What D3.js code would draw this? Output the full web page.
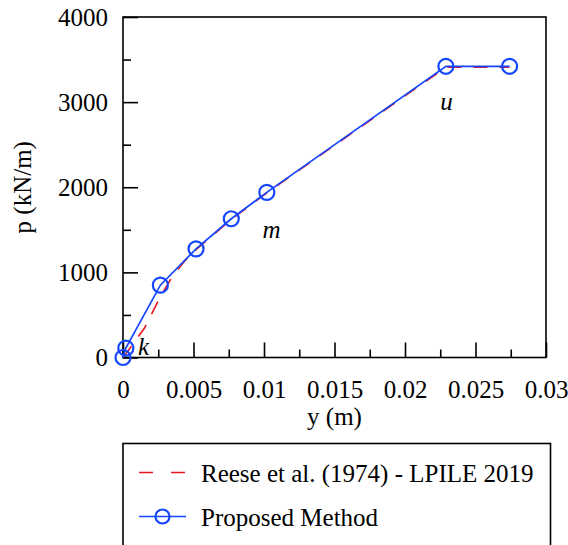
<!DOCTYPE html>
<html>
<head>
<meta charset="utf-8">
<script src="https://cdn.jsdelivr.net/npm/d3@7"></script>
<style>
  html, body { margin: 0; padding: 0; background: #fff; }
  svg { display: block; }
  text { font-family: "Liberation Serif", "Times New Roman", serif; fill: #000; }
</style>
</head>
<body>
<svg id="chart" width="568" height="545"></svg>
<script>
// Reese et al. (1974) p-y curve as computed by LPILE 2019
const reeseY = [0, 0.0002, 0.001, 0.0015, 0.002, 0.0027, 0.0035, 0.0043, 0.0052, 0.0077, 0.0102, 0.0229, 0.0274];
const reeseP = [0, 40, 225, 340, 500, 730, 950, 1120, 1270, 1625, 1935, 3410, 3410];

// Proposed method points
const propY = [0, 0.0002, 0.00265, 0.00518, 0.00768, 0.0102, 0.0229, 0.02742];
const propP = [0, 110, 850, 1276, 1630, 1940, 3421, 3421];

// Axis ticks
const xTicks = [0, 0.005, 0.01, 0.015, 0.02, 0.025, 0.03];
const xTickLabels = ["0", "0.005", "0.01", "0.015", "0.02", "0.025", "0.03"];
const yTicks = [0, 1000, 2000, 3000, 4000];
const yTickLabels = ["0", "1000", "2000", "3000", "4000"];

// Curve point labels
const pointLabels = ["k", "m", "u"];
const pointLabelY = [0.00145, 0.01053, 0.02295];
const pointLabelP = [30, 1400, 2905];

const legendLabels = ["Reese et al. (1974) - LPILE 2019", "Proposed Method"];

const svg = d3.select("#chart");
const plotL = 123, plotR = 546, plotT = 17, plotB = 357.5;
const fs = 25;

const x = d3.scaleLinear().domain([0, 0.03]).range([plotL, plotR]);
const y = d3.scaleLinear().domain([0, 4000]).range([plotB, plotT]);

const blue = "#1446ff";
const red = "#e8141e";

// Frame
svg.append("rect")
  .attr("x", plotL).attr("y", plotT)
  .attr("width", plotR - plotL).attr("height", plotB - plotT)
  .attr("fill", "none").attr("stroke", "#000").attr("stroke-width", 1.6);

// Inward ticks: major and minor
const xMinor = d3.range(0.0025, 0.03, 0.005);
const yMinor = d3.range(500, 4000, 1000);

const xAxis = d3.axisBottom(x).tickValues(xTicks)
  .tickSize(-15).tickPadding(23)
  .tickFormat((d, i) => xTickLabels[i]);
const gx = svg.append("g").attr("transform", `translate(0,${plotB})`).call(xAxis);
gx.select(".domain").remove();
gx.selectAll("line").attr("stroke-width", 1.6);
gx.selectAll("text").attr("font-size", fs);

const xAxisMinor = d3.axisBottom(x).tickValues(xMinor).tickSize(-8).tickFormat("");
const gxm = svg.append("g").attr("transform", `translate(0,${plotB})`).call(xAxisMinor);
gxm.select(".domain").remove();
gxm.selectAll("line").attr("stroke-width", 1.6);

const yAxis = d3.axisLeft(y).tickValues(yTicks)
  .tickSize(-15).tickPadding(15)
  .tickFormat((d, i) => yTickLabels[i]);
const gy = svg.append("g").attr("transform", `translate(${plotL},0)`).call(yAxis);
gy.select(".domain").remove();
gy.selectAll("line").attr("stroke-width", 1.6);
gy.selectAll("text").attr("font-size", fs);

const yAxisMinor = d3.axisLeft(y).tickValues(yMinor).tickSize(-8).tickFormat("");
const gym = svg.append("g").attr("transform", `translate(${plotL},0)`).call(yAxisMinor);
gym.select(".domain").remove();
gym.selectAll("line").attr("stroke-width", 1.6);

// Axis titles
svg.append("text")
  .attr("x", (plotL + plotR) / 2).attr("y", 425)
  .attr("text-anchor", "middle").attr("font-size", fs)
  .text("y (m)");
svg.append("text")
  .attr("transform", `translate(31,${(plotT + plotB) / 2}) rotate(-90)`)
  .attr("text-anchor", "middle").attr("font-size", fs)
  .text("p (kN/m)");

// Curves
const line = d3.line().x(d => x(d[0])).y(d => y(d[1]));
const reese = reeseY.map((v, i) => [v, reeseP[i]]);
const prop = propY.map((v, i) => [v, propP[i]]);

svg.append("path").datum(reese)
  .attr("d", line).attr("fill", "none")
  .attr("stroke", red).attr("stroke-width", 1.6)
  .attr("stroke-dasharray", "14,12");

svg.append("path").datum(prop)
  .attr("d", line).attr("fill", "none")
  .attr("stroke", blue).attr("stroke-width", 1.7);

svg.selectAll("circle.pt").data(prop).enter().append("circle")
  .attr("class", "pt")
  .attr("cx", d => x(d[0])).attr("cy", d => y(d[1]))
  .attr("r", 7.5).attr("fill", "none")
  .attr("stroke", blue).attr("stroke-width", 2.2);

// Point labels
svg.selectAll("text.lbl").data(pointLabels).enter().append("text")
  .attr("class", "lbl")
  .attr("x", (d, i) => x(pointLabelY[i])).attr("y", (d, i) => y(pointLabelP[i]))
  .attr("text-anchor", "middle").attr("font-size", fs).attr("font-style", "italic")
  .text(d => d);

// Legend
const lg = svg.append("g");
lg.append("rect")
  .attr("x", 123).attr("y", 443.5)
  .attr("width", 427.5).attr("height", 120)
  .attr("fill", "none").attr("stroke", "#000").attr("stroke-width", 1.6);

const ly = [472.5, 516.5];
lg.append("line")
  .attr("x1", 139).attr("x2", 186).attr("y1", ly[0]).attr("y2", ly[0])
  .attr("stroke", red).attr("stroke-width", 1.6).attr("stroke-dasharray", "14,18");
lg.append("line")
  .attr("x1", 139).attr("x2", 186).attr("y1", ly[1]).attr("y2", ly[1])
  .attr("stroke", blue).attr("stroke-width", 1.7);
lg.append("circle")
  .attr("cx", 162.5).attr("cy", ly[1]).attr("r", 7)
  .attr("fill", "none").attr("stroke", blue).attr("stroke-width", 2.2);

lg.selectAll("text.leg").data(legendLabels).enter().append("text")
  .attr("class", "leg")
  .attr("x", 201).attr("y", (d, i) => ly[i] + 9)
  .attr("font-size", fs)
  .text(d => d);
</script>
</body>
</html>
